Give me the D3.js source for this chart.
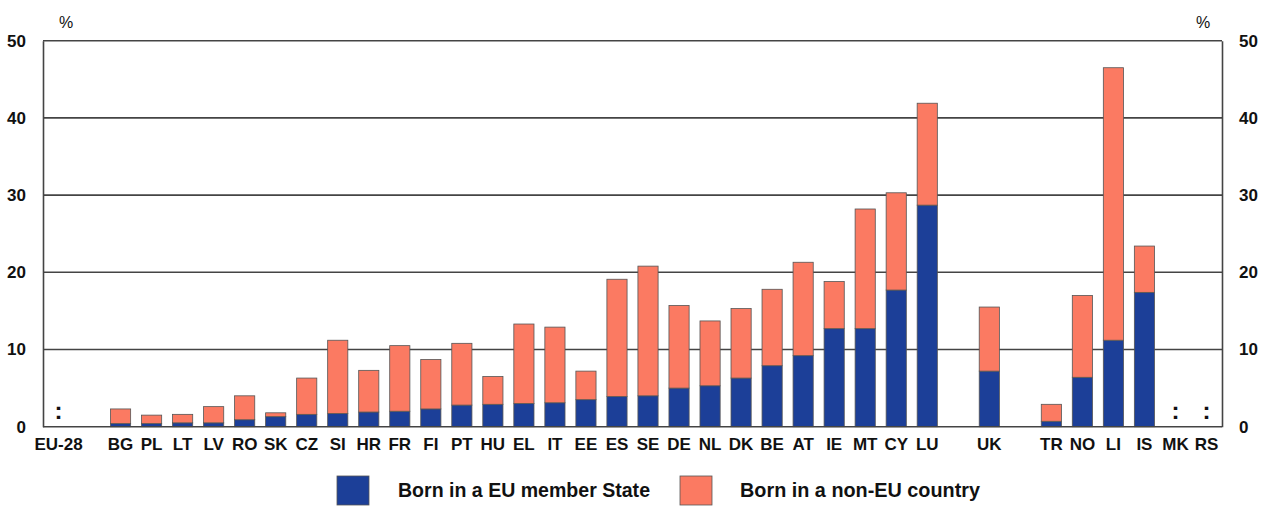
<!DOCTYPE html>
<html><head><meta charset="utf-8">
<script src="https://cdn.jsdelivr.net/npm/d3@7"></script>
<style>
body{margin:0;background:#fff;}
text{font-family:"Liberation Sans",Arial,sans-serif;font-weight:bold;fill:#111;}
</style></head><body>
<svg id="c" width="1266" height="507"></svg>
<script>
const categories = ["EU-28","", "BG","PL","LT","LV","RO","SK","CZ","SI","HR","FR","FI","PT","HU","EL","IT","EE","ES","SE","DE","NL","DK","BE","AT","IE","MT","CY","LU","","UK","","TR","NO","LI","IS","MK","RS"];
const keys = ["EU-28","_g1","BG","PL","LT","LV","RO","SK","CZ","SI","HR","FR","FI","PT","HU","EL","IT","EE","ES","SE","DE","NL","DK","BE","AT","IE","MT","CY","LU","_g2","UK","_g3","TR","NO","LI","IS","MK","RS"];
// null = not available (":")
const bornEU    = [null,0,0.4,0.4,0.5,0.5,0.9,1.3,1.6,1.7,1.9,2.0,2.3,2.8,2.9,3.0,3.1,3.5,3.9,4.0,5.0,5.3,6.3,7.9,9.2,12.7,12.7,17.7,28.7,0,7.2,0,0.7,6.4,11.2,17.4,null,null];
const bornNonEU = [null,0,1.9,1.1,1.1,2.1,3.1,0.5,4.7,9.5,5.4,8.5,6.4,8.0,3.6,10.3,9.8,3.7,15.2,16.8,10.7,8.4,9.0,9.9,12.1,6.1,15.5,12.6,13.2,0,8.3,0,2.2,10.6,35.3,6.0,null,null];
const yTicks = [0,10,20,30,40,50];
const seriesNames = ["Born in a EU member State","Born in a non-EU country"];
const colors = ["#1c3f98","#fb7a62"];

const svg = d3.select("#c");
const L = 43, R = 1222, T = 40.7, B = 426.7;
const x = d3.scaleBand().domain(keys).range([L,R]).paddingInner(0.35).paddingOuter(0.175);
const y = d3.scaleLinear().domain([0,50]).range([B,T]);
const isGap = k => k.startsWith("_g");

// gridlines
svg.append("g").selectAll("line").data(yTicks.filter(d=>d>0)).join("line")
  .attr("x1",L).attr("x2",R).attr("y1",d=>y(d)).attr("y2",d=>y(d))
  .attr("stroke","#444").attr("stroke-width",1.6);

// left & right axes
const yl = svg.append("g").attr("transform",`translate(${L},0)`)
  .call(d3.axisLeft(y).tickValues(yTicks).tickSize(0).tickPadding(17));
const yr = svg.append("g").attr("transform",`translate(${R},0)`)
  .call(d3.axisRight(y).tickValues(yTicks).tickSize(0).tickPadding(17));
[yl,yr].forEach(g=>{
  g.select(".domain").attr("stroke","#444").attr("stroke-width",1.6);
  g.selectAll("text").style("font-size","17px").attr("fill","#111");
});

// stacked bars
const rows = keys.map((k,i)=>({k, eu:bornEU[i], non:bornNonEU[i]}));
const valid = rows.filter(r=>r.eu!==null && !isGap(r.k));
const stack = d3.stack().keys(["eu","non"]).value((d,k)=>d[k])(valid);
svg.append("g").selectAll("g").data(stack).join("g")
  .attr("fill",(d,i)=>colors[i])
  .selectAll("rect").data(d=>d).join("rect")
  .attr("x",d=>x(d.data.k)).attr("width",x.bandwidth())
  .attr("y",d=>y(d[1])).attr("height",d=>y(d[0])-y(d[1]))
  .attr("stroke","#555").attr("stroke-width",0.8);

// baseline
svg.append("line").attr("x1",L).attr("x2",R).attr("y1",B).attr("y2",B)
  .attr("stroke","#444").attr("stroke-width",1.6);

// not-available markers
svg.append("g").selectAll("text").data(rows.filter(r=>r.eu===null)).join("text")
  .attr("x",d=>x(d.k)+x.bandwidth()/2).attr("y",419)
  .attr("text-anchor","middle")
  .style("font-size","24px").text(":");

// category labels
svg.append("g").selectAll("text").data(keys.map((k,i)=>({k,label:categories[i]}))).join("text")
  .attr("x",d=>x(d.k)+x.bandwidth()/2).attr("y",B+23)
  .attr("text-anchor","middle").style("font-size","17px").text(d=>d.label);

// % units
svg.append("text").attr("x",66).attr("y",28).attr("text-anchor","middle")
  .style("font-size","16px").style("font-weight","normal").text("%");
svg.append("text").attr("x",1203).attr("y",28).attr("text-anchor","middle")
  .style("font-size","16px").style("font-weight","normal").text("%");

// legend
const leg = [{x:337,tx:398,w:252},{x:680,tx:740,w:240}];
leg.forEach((p,i)=>{
  svg.append("rect").attr("x",p.x).attr("y",476).attr("width",32).attr("height",29)
    .attr("fill",colors[i]).attr("stroke","#555").attr("stroke-width",0.8);
  svg.append("text").attr("x",p.tx).attr("y",497).style("font-size","21px")
    .attr("textLength",p.w).attr("lengthAdjust","spacingAndGlyphs").text(seriesNames[i]);
});
</script>
</body></html>
